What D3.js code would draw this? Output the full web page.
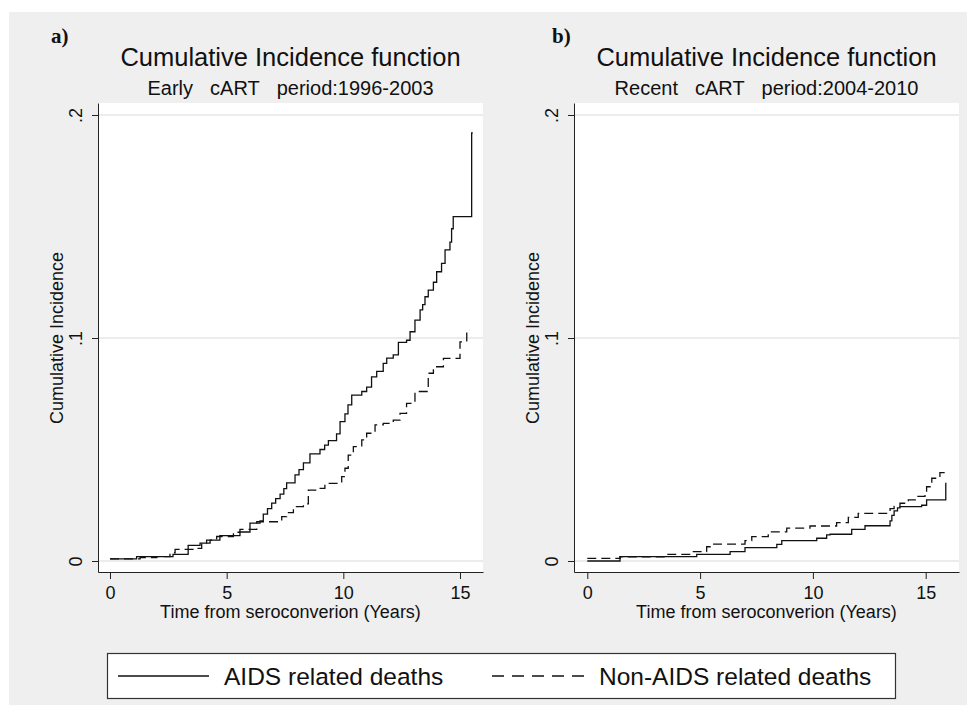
<!DOCTYPE html>
<html><head><meta charset="utf-8">
<script src="https://cdn.jsdelivr.net/npm/d3@7"></script>
<style>
body{margin:0;background:#fff;}
svg{display:block;}
text{font-family:"Liberation Sans",Arial,Helvetica,sans-serif;fill:#111;}
</style>
</head><body>
<svg id="c" width="977" height="713"></svg>
<script>
// ---------- data ----------
const xTicks = [0, 5, 10, 15];
const yTicks = [0, 0.1, 0.2];
const yTickLabels = ["0", ".1", ".2"];
const panelLabels = ["a)", "b)"];
const titles = ["Cumulative Incidence function", "Cumulative Incidence function"];
const subtitleParts = [["Early", "cART", "period:1996-2003"], ["Recent", "cART", "period:2004-2010"]];
const xTitle = "Time from seroconverion (Years)";
const yTitle = "Cumulative Incidence";
const seriesNames = ["AIDS related deaths", "Non-AIDS related deaths"];

// Early cART period: AIDS related deaths (time, cumulative incidence)
const aidsEarly = [
  [0,0.001],[1.14,0.002],[2.7,0.003],[3.35,0.007],[3.86,0.008],[4.14,0.0094],[4.71,0.0114],
  [5.57,0.013],[6.0,0.017],[6.43,0.018],[6.57,0.021],[6.75,0.0235],[6.93,0.026],[7.1,0.028],
  [7.29,0.030],[7.45,0.0325],[7.57,0.035],[7.93,0.0386],[8.1,0.041],[8.29,0.044],[8.57,0.048],
  [9.0,0.050],[9.2,0.052],[9.36,0.054],[9.71,0.057],[9.86,0.0625],[10.07,0.066],[10.2,0.070],
  [10.36,0.0744],[10.79,0.076],[11.0,0.078],[11.21,0.0826],[11.43,0.085],[11.71,0.0886],
  [11.86,0.091],[12.14,0.0924],[12.36,0.098],[12.71,0.099],[12.86,0.1028],[13.07,0.108],
  [13.29,0.1126],[13.4,0.115],[13.5,0.1185],[13.64,0.1215],[13.86,0.125],[14.0,0.1297],
  [14.21,0.1335],[14.36,0.1395],[14.57,0.143],[14.64,0.149],[14.71,0.1544],[15.5,0.192],[15.55,0.192]
];
// Early cART period: Non-AIDS related deaths
const nonAidsEarly = [
  [0,0.001],[1.29,0.0015],[2.0,0.002],[2.57,0.0037],[2.79,0.0052],[3.71,0.0057],[3.93,0.008],
  [4.29,0.0094],[4.57,0.011],[5.29,0.0129],[5.57,0.0142],[6.29,0.0176],[7.36,0.0199],[7.57,0.0217],
  [7.86,0.0244],[8.29,0.0256],[8.5,0.0318],[8.86,0.0326],[9.21,0.0348],[9.93,0.0378],[10.07,0.0416],
  [10.21,0.0475],[10.43,0.0513],[10.79,0.0543],[11.0,0.0573],[11.36,0.061],[11.71,0.0617],
  [12.14,0.0632],[12.43,0.0662],[12.71,0.0707],[13.07,0.076],[13.64,0.0842],[13.86,0.0871],
  [14.29,0.0909],[15.0,0.0983],[15.29,0.1036],[15.4,0.1036]
];
// Recent cART period: AIDS related deaths
const aidsRecent = [
  [0,0.0],[1.45,0.002],[4.85,0.003],[6.33,0.0042],[6.99,0.006],[8.4,0.0075],[8.62,0.0091],
  [10.17,0.0102],[10.61,0.0117],[10.76,0.012],[11.72,0.0142],[12.31,0.0158],[13.42,0.018],
  [13.5,0.0205],[13.6,0.0225],[13.75,0.0238],[13.86,0.0244],[14.82,0.025],[15.04,0.0274],
  [15.89,0.0348],[15.92,0.0348]
];
// Recent cART period: Non-AIDS related deaths
const nonAidsRecent = [
  [0,0.0012],[1.45,0.0019],[3.44,0.003],[4.7,0.0042],[5.29,0.0064],[5.51,0.0076],[6.99,0.0091],
  [7.29,0.0109],[8.02,0.0131],[8.84,0.0147],[9.87,0.0157],[11.05,0.0172],[11.57,0.0196],
  [12.01,0.0214],[13.42,0.0235],[13.6,0.0245],[13.86,0.0259],[14.23,0.0274],[14.6,0.029],
  [14.97,0.0304],[15.04,0.0333],[15.27,0.0371],[15.63,0.0396],[15.9,0.0396]
];

// ---------- layout ----------
const svg = d3.select("#c");
svg.append("rect").attr("x",9).attr("y",12).attr("width",958).attr("height",693).attr("fill","#efefef");

const panels = [
  {left:98, right:483, xDomain:[-0.514, 15.986], label:[51,43], series:[aidsEarly, nonAidsEarly]},
  {left:574, right:959, xDomain:[-0.59, 16.476], label:[552,43], series:[aidsRecent, nonAidsRecent]}
];
const plotTop = 103, plotBottom = 572;
const yDomain = [-0.00493, 0.20538];

panels.forEach((p, i) => {
  const x = d3.scaleLinear().domain(p.xDomain).range([p.left, p.right]);
  const y = d3.scaleLinear().domain(yDomain).range([plotBottom, plotTop]);
  const g = svg.append("g");

  g.append("rect").attr("x",p.left).attr("y",plotTop).attr("width",p.right-p.left).attr("height",plotBottom-plotTop).attr("fill","#fff");

  // grid
  g.selectAll("line.grid").data(yTicks).join("line")
    .attr("x1",p.left).attr("x2",p.right)
    .attr("y1",d=>y(d)).attr("y2",d=>y(d))
    .attr("stroke","#e6e6e6").attr("stroke-width",1.3);

  // x axis
  const xa = g.append("g").attr("transform",`translate(0,${plotBottom})`)
    .call(d3.axisBottom(x).tickValues(xTicks).tickSize(7).tickSizeOuter(0).tickPadding(7).tickFormat(d3.format("d")));
  xa.select(".domain").attr("stroke","#222");
  xa.selectAll(".tick line").attr("stroke","#222");
  xa.selectAll(".tick text").attr("font-size",18).attr("font-family","'Liberation Sans',Arial,sans-serif").attr("fill","#111");

  // y axis
  const ya = g.append("g").attr("transform",`translate(${p.left},0)`)
    .call(d3.axisLeft(y).tickValues(yTicks).tickSize(6).tickSizeOuter(0).tickFormat((d,k)=>yTickLabels[k]));
  ya.select(".domain").attr("stroke","#222");
  ya.selectAll(".tick line").attr("stroke","#222");
  ya.selectAll(".tick text")
    .attr("font-size",18).attr("font-family","'Liberation Sans',Arial,sans-serif").attr("fill","#111")
    .attr("x",null).attr("dy",null)
    .attr("text-anchor","middle")
    .attr("transform","translate(-16,0) rotate(-90)");

  // axis titles
  g.append("text").attr("x",(p.left+p.right)/2).attr("y",618).attr("text-anchor","middle")
    .attr("font-size",18).text(xTitle);
  g.append("text").attr("transform",`translate(${p.left-35},${y(0.1)}) rotate(-90)`)
    .attr("text-anchor","middle").attr("font-size",18).text(yTitle);

  // titles
  const cx = (p.left+p.right)/2;
  g.append("text").attr("x",cx).attr("y",66).attr("text-anchor","middle").attr("font-size",25.5).text(titles[i]);
  const sub = g.append("g");
  const parts = subtitleParts[i].map(s => sub.append("text").attr("y",95).attr("font-size",20).text(s));
  const gap = 17;
  const widths = parts.map(t => t.node().getComputedTextLength());
  let sx = cx - (d3.sum(widths) + gap*(parts.length-1))/2;
  parts.forEach((t,k) => { t.attr("x", sx); sx += widths[k] + gap; });

  g.append("text").attr("x",p.label[0]).attr("y",p.label[1])
    .attr("font-weight","bold")
    .attr("font-size",21).style("font-family","'Liberation Serif','Times New Roman',serif").text(panelLabels[i]);

  // curves
  const line = d3.line().x(d=>x(d[0])).y(d=>y(d[1])).curve(d3.curveStepAfter);
  g.append("path").datum(p.series[0]).attr("d",line).attr("fill","none")
    .attr("stroke","#111").attr("stroke-width",1.3);
  g.append("path").datum(p.series[1]).attr("d",line).attr("fill","none")
    .attr("stroke","#111").attr("stroke-width",1.3).attr("stroke-dasharray","9,5");
});

// legend
const lg = svg.append("g");
lg.append("rect").attr("x",107.5).attr("y",653.5).attr("width",788).attr("height",45)
  .attr("fill","#fff").attr("stroke","#333").attr("stroke-width",1.2);
lg.append("line").attr("x1",118).attr("x2",209).attr("y1",676).attr("y2",676)
  .attr("stroke","#111").attr("stroke-width",1.5);
lg.append("text").attr("x",224).attr("y",685).attr("font-size",24.5).text(seriesNames[0]);
lg.append("line").attr("x1",492).attr("x2",586).attr("y1",676).attr("y2",676)
  .attr("stroke","#111").attr("stroke-width",1.5).attr("stroke-dasharray","12,8");
lg.append("text").attr("x",599).attr("y",685).attr("font-size",24.5).text(seriesNames[1]);
</script>
</body></html>
